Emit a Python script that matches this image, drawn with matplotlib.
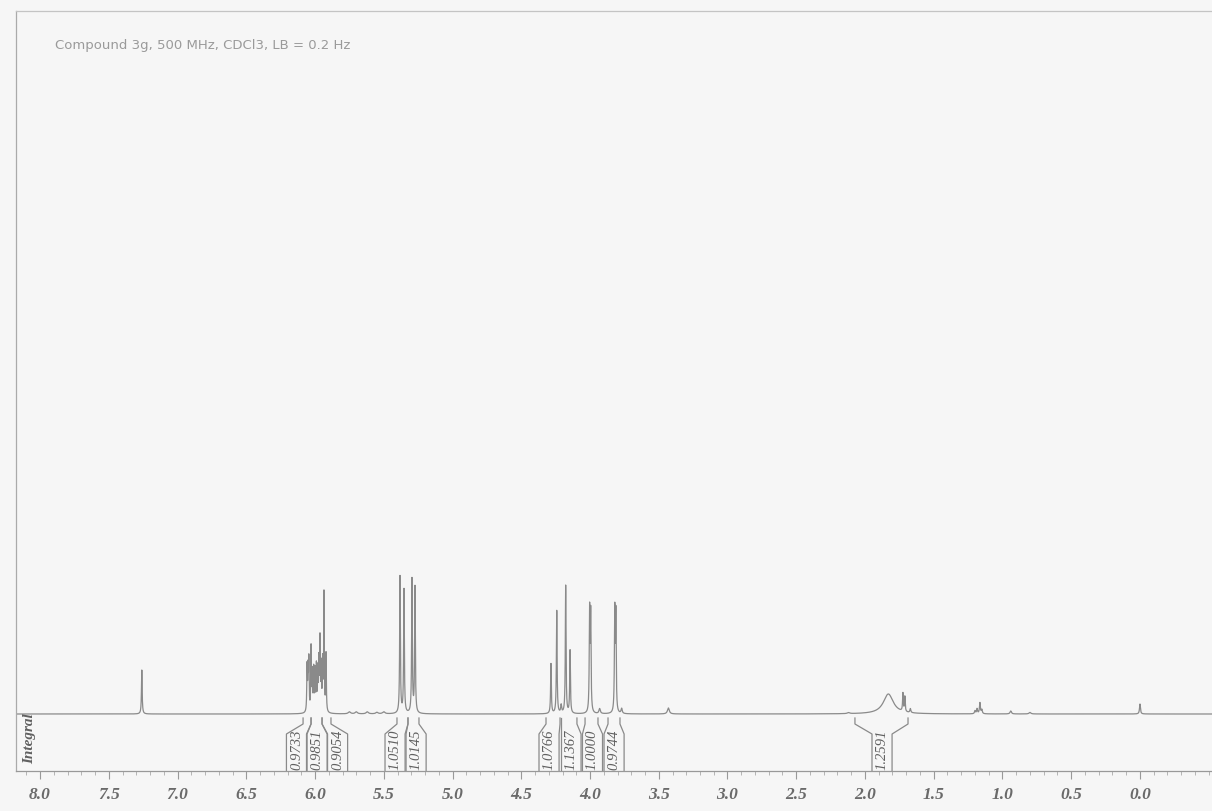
import numpy as np
import matplotlib.pyplot as plt
from matplotlib.ticker import MultipleLocator, FixedLocator, FormatStrFormatter

# 1H NMR, compound 3g, 500 MHz in CDCl3
title = "Compound 3g, 500 MHz, CDCl3, LB = 0.2 Hz"
tick_ppm = [8.0, 7.5, 7.0, 6.5, 6.0, 5.5, 5.0, 4.5, 4.0, 3.5, 3.0, 2.5, 2.0, 1.5, 1.0, 0.5, 0.0]

# peak list: shift (ppm), height (px above baseline), half width (ppm)
peak_ppm = [7.260,
            6.058, 6.051, 6.045, 6.029, 6.020, 6.010, 6.000, 5.990, 5.980,
            5.972, 5.964, 5.955, 5.945, 5.935, 5.920,
            5.75, 5.70, 5.62, 5.55, 5.50,
            5.382, 5.353, 5.295, 5.273,
            4.284, 4.242, 4.210, 4.177, 4.145, 4.003, 3.995, 3.930,
            3.820, 3.812, 3.770, 3.430,
            2.12, 1.830, 1.724, 1.710, 1.670,
            1.200, 1.185, 1.164, 1.150, 0.940, 0.800, 0.000]
peak_height = [44,
               45, 40, 50, 64, 38, 42, 40, 45, 40,
               48, 70, 44, 48, 118, 58,
               2, 2, 2, 1.5, 2,
               137, 124, 134, 126,
               50, 103, 8, 128, 63, 100, 96, 5,
               100, 96, 5, 6,
               1, 20, 18, 15, 4,
               3, 5, 11, 4, 3, 1.5, 10]
peak_width = [0.003,
              0.0025, 0.0025, 0.0025, 0.0025, 0.0025, 0.0025, 0.0025, 0.0025, 0.0025,
              0.0025, 0.0025, 0.0025, 0.0025, 0.0025, 0.0025,
              0.01, 0.01, 0.01, 0.01, 0.01,
              0.003, 0.003, 0.003, 0.003,
              0.003, 0.003, 0.004, 0.003, 0.003, 0.003, 0.003, 0.006,
              0.003, 0.003, 0.005, 0.008,
              0.01, 0.044, 0.003, 0.003, 0.004,
              0.004, 0.004, 0.004, 0.004, 0.006, 0.008, 0.004]

# integrals: value, region start/end (ppm), label centre (ppm)
int_value = ["0.9733", "0.9851", "0.9054", "1.0510", "1.0145",
             "1.0766", "1.1367", "1.0000", "0.9744", "1.2591"]
int_start = [6.087, 6.029, 5.949, 5.404, 5.324, 4.320, 4.211, 4.036, 3.869, 2.073]
int_end = [6.029, 5.949, 5.884, 5.324, 5.244, 4.218, 4.095, 3.942, 3.782, 1.687]
int_label = [6.135, 5.985, 5.836, 5.418, 5.265, 4.298, 4.138, 3.982, 3.825, 1.876]

# layout in pixel units above the bottom axis line
baseline = 57
br_top, br_knee, box_top, box_half = 53, 47, 37, 0.073

ink = "#8a8a8a"
paper = "#f6f6f6"

fig = plt.figure(figsize=(12.12, 8.12), dpi=100, facecolor=paper)
ax = fig.add_axes([16 / 1212, 40 / 812, 1 - 16 / 1212, 760 / 812], facecolor=paper)

ppm = np.linspace(8.2, -0.55, 24000)
spec = np.full_like(ppm, baseline, dtype=float)
for p, h, w in zip(peak_ppm, peak_height, peak_width):
    spec += h / (1 + ((ppm - p) / w) ** 2)
ax.plot(ppm, spec, color=ink, lw=0.9)

# integral brackets and values
for val, a, b, c in zip(int_value, int_start, int_end, int_label):
    ax.plot([a, a, c + box_half, c + box_half], [br_top, br_knee, box_top, 0],
            color=ink, lw=0.9)
    ax.plot([b, b, c - box_half, c - box_half], [br_top, br_knee, box_top, 0],
            color=ink, lw=0.9)
    ax.text(c, 22, val, rotation=90, ha="center", va="center", fontsize=10.5,
            family="Liberation Serif", style="italic", color="#606060")

ax.text(8.073, 33, "Integral", rotation=90, ha="center", va="center", fontsize=11,
        family="Liberation Serif", style="italic", weight="bold", color="#606060")
ax.text(7.89, 727, title, ha="left", va="center", fontsize=9.5, color="#9a9a9a")

ax.set_xlim(8.175, -0.524)
ax.set_ylim(0, 760)
ax.xaxis.set_major_locator(FixedLocator(tick_ppm))
ax.xaxis.set_minor_locator(MultipleLocator(0.1))
ax.xaxis.set_major_formatter(FormatStrFormatter("%.1f"))
ax.tick_params(axis="x", which="major", length=6, color="#999999", pad=5)
ax.tick_params(axis="x", which="minor", length=3, color="#aaaaaa")
ax.set_yticks([])
for lab in ax.get_xticklabels():
    lab.set_family("Liberation Serif")
    lab.set_style("italic")
    lab.set_weight("bold")
    lab.set_fontsize(12.5)
    lab.set_color("#6a6a6a")

ax.spines["right"].set_visible(False)
ax.spines["top"].set_color("#c4c4c4")
ax.spines["left"].set_color("#aaaaaa")
ax.spines["bottom"].set_color("#999999")
for s in ax.spines.values():
    s.set_linewidth(0.9)

fig.savefig("out.png", dpi=100, facecolor=paper)
